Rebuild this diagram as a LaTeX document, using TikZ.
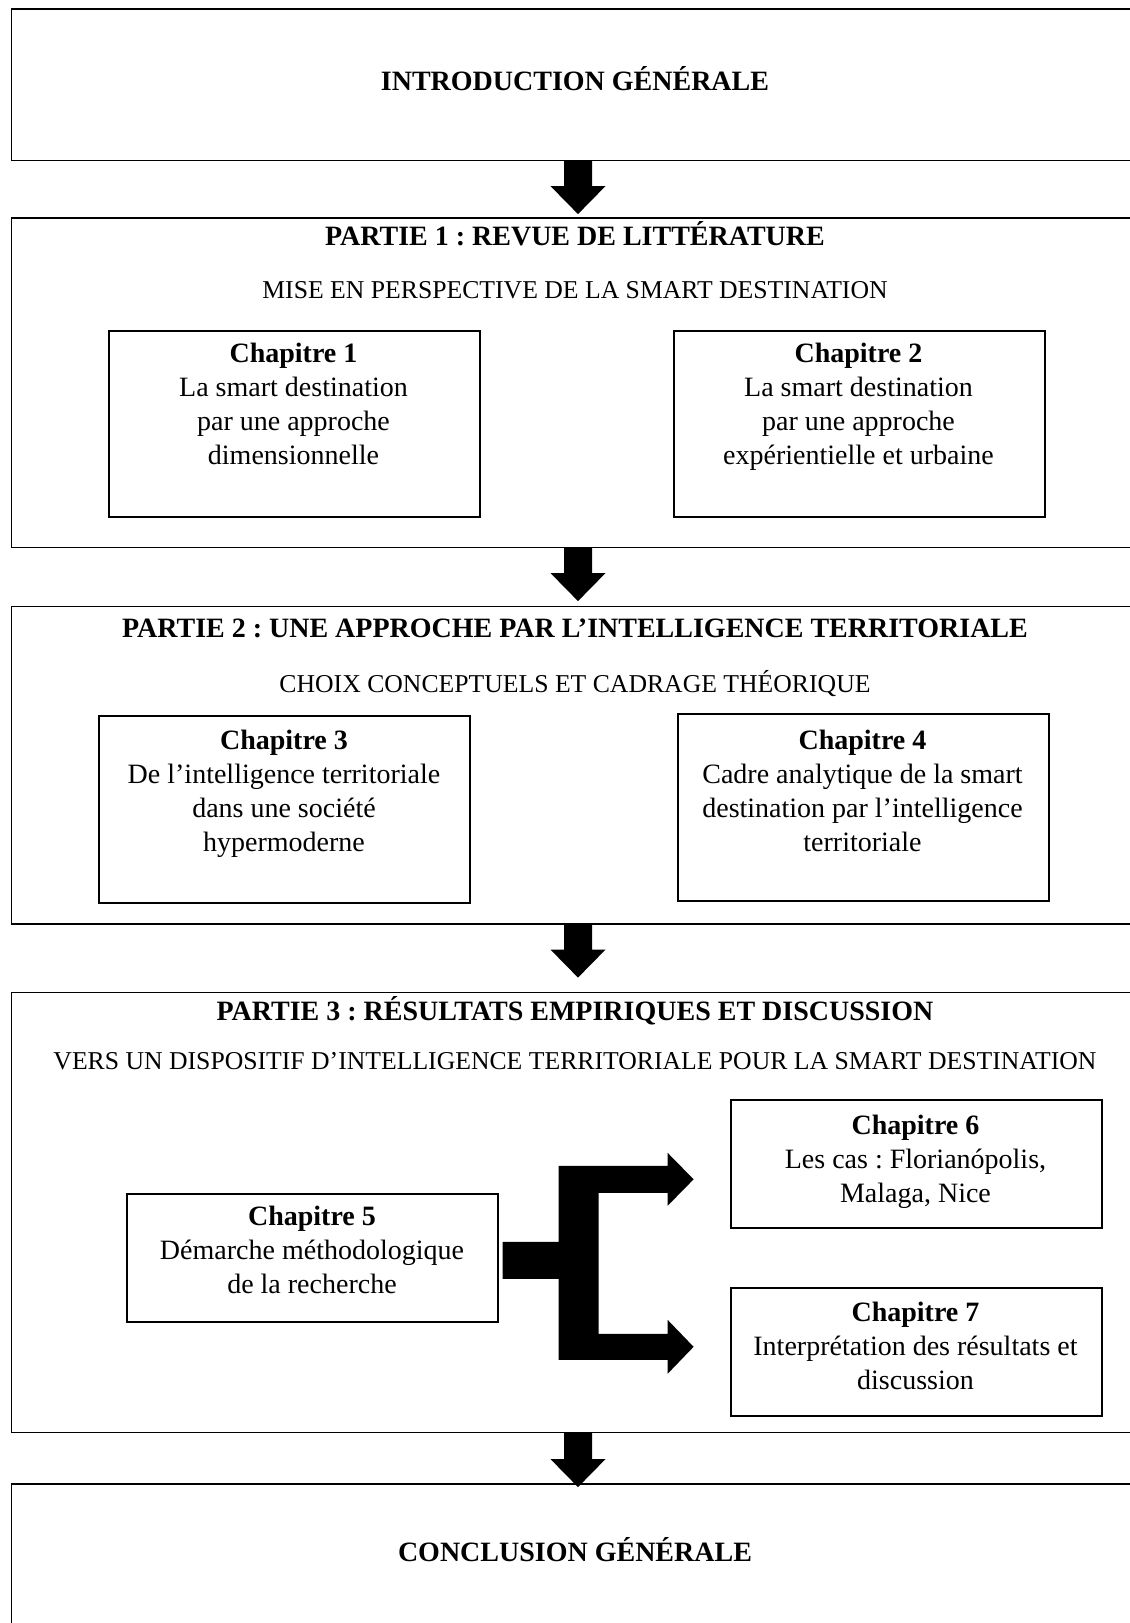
\documentclass[tikz,border=0pt]{standalone}
\usepackage{fontspec}
\setmainfont{Liberation Serif}
\usetikzlibrary{calc}
\frenchspacing
\newcommand{\blockdown}[2]{\fill[blockarrow] ($(#1)+(-14,0)$) -- ($(#1)+(14,0)$) -- ($(#2)+(14,-28)$) -- ($(#2)+(27.5,-28)$) -- (#2) -- ($(#2)+(-27.5,-28)$) -- ($(#2)+(-14,-28)$) -- cycle;}
\begin{document}
\begin{tikzpicture}[x=1pt,y=-1pt,
  outerbox/.style={draw=black, line width=1.6pt, anchor=north west, inner sep=0pt, minimum width=1129.5pt},
  chapbox/.style={draw=black, line width=1.6pt, anchor=north west, inner sep=0pt, minimum width=371pt},
  ttl/.style={font=\fontsize{28}{34}\selectfont\bfseries, inner sep=0pt, anchor=base},
  sub/.style={font=\fontsize{25.7}{31}\selectfont, inner sep=0pt, anchor=base},
  chaptxt/.style={font=\fontsize{28}{34}\selectfont, align=center, inner sep=0pt, anchor=north},
  blockarrow/.style={fill=black}
]
\useasboundingbox (0,0) rectangle (1130,1623);
\fill[white] (0,0) rectangle (1130,1623);
\clip (0,0) rectangle (1130,1623);

% outer boxes
\node[outerbox, minimum height=151.5pt] (intro) at (10.5,8) {};
\node[outerbox, minimum height=329.5pt] (p1) at (10.5,217) {};
\node[outerbox, minimum height=317.5pt] (p2) at (10.5,605.5) {};
\node[outerbox, minimum height=440pt] (p3) at (10.5,991.5) {};
\node[outerbox, minimum height=300pt] (concl) at (10.5,1483) {};

% titles
\node[ttl] (introT) at (575,90) {INTRODUCTION GÉNÉRALE};
\node[ttl] (p1T) at (575,245) {PARTIE 1 : REVUE DE LITTÉRATURE};
\node[sub] (p1S) at (575,298) {MISE EN PERSPECTIVE DE LA SMART DESTINATION};
\node[ttl] (p2T) at (575,637) {PARTIE 2 : UNE APPROCHE PAR L’INTELLIGENCE TERRITORIALE};
\node[sub] (p2S) at (575,692) {CHOIX CONCEPTUELS ET CADRAGE THÉORIQUE};
\node[ttl] (p3T) at (575,1020) {PARTIE 3 : RÉSULTATS EMPIRIQUES ET DISCUSSION};
\node[sub] (p3S) at (575,1069) {VERS UN DISPOSITIF D’INTELLIGENCE TERRITORIALE POUR LA SMART DESTINATION};
\node[ttl] (conclT) at (575,1561) {CONCLUSION GÉNÉRALE};

% chapter boxes
\node[chapbox, minimum height=186pt] (c1) at (108,330) {};
\node[chapbox, minimum height=186pt] (c2) at (673,330) {};
\node[chapbox, minimum height=187pt] (c3) at (98,715) {};
\node[chapbox, minimum height=187pt] (c4) at (677,713) {};
\node[chapbox, minimum height=128pt] (c5) at (126,1193) {};
\node[chapbox, minimum height=128pt] (c6) at (730,1099) {};
\node[chapbox, minimum height=128pt] (c7) at (730,1287) {};

% chapter texts
\node[chaptxt] (c1t) at (293.5,343) {\textbf{Chapitre 1}\\La smart destination\\par une approche\\dimensionnelle};
\node[chaptxt] (c2t) at (858.5,343) {\textbf{Chapitre 2}\\La smart destination\\par une approche\\expérientielle et urbaine};
\node[chaptxt] (c3t) at (284,730) {\textbf{Chapitre 3}\\De l’intelligence territoriale\\dans une société\\hypermoderne};
\node[chaptxt] (c4t) at (862.5,730) {\textbf{Chapitre 4}\\Cadre analytique de la smart\\destination par l’intelligence\\territoriale};
\node[chaptxt] (c5t) at (312,1206) {\textbf{Chapitre 5}\\Démarche méthodologique\\de la recherche};
\node[chaptxt] (c6t) at (915.5,1115) {\textbf{Chapitre 6}\\Les cas : Florianópolis,\\Malaga, Nice};
\node[chaptxt] (c7t) at (915.5,1302) {\textbf{Chapitre 7}\\Interprétation des résultats et\\discussion};

% block arrows between parts
\coordinate (ax) at (578,0);
\coordinate (a1s) at (intro.south -| ax); \coordinate (a1e) at ($(a1s)+(0,53)$);
\coordinate (a2s) at (p1.south -| ax);    \coordinate (a2e) at ($(a2s)+(0,53)$);
\coordinate (a3s) at (p2.south -| ax);    \coordinate (a3e) at ($(a3s)+(0,53)$);
\coordinate (a4s) at (p3.south -| ax);    \coordinate (a4e) at ($(a4s)+(0,54)$);
\blockdown{a1s}{a1e}
\blockdown{a2s}{a2e}
\blockdown{a3s}{a3e}
\blockdown{a4s}{a4e}

% fork from chapter 5 to chapters 6 and 7
\coordinate (f0) at ($(c5.east)+(4,2.5)$);
\begin{scope}[shift={(f0)}]
\fill[blockarrow] (0,-18.5) -- (56,-18.5) -- (56,-94.5) -- (165,-94.5) -- (165,-107.5) -- (191,-81) -- (165,-54.5) -- (165,-67.5) -- (96,-67.5) -- (96,73.5) -- (165,73.5) -- (165,59.5) -- (191,86.5) -- (165,113.5) -- (165,99.5) -- (56,99.5) -- (56,18.5) -- (0,18.5) -- cycle;
\end{scope}
\end{tikzpicture}
\end{document}
